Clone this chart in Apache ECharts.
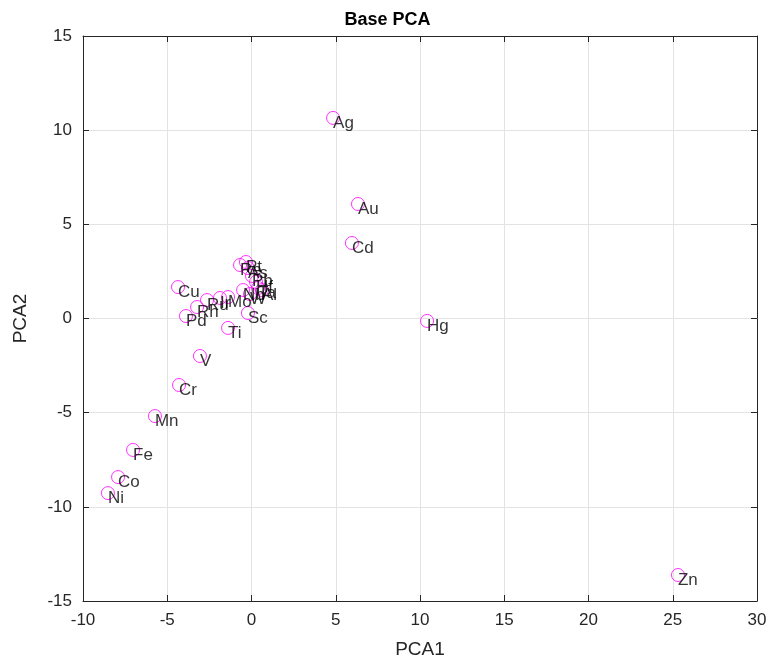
<!DOCTYPE html>
<html>
<head>
<meta charset="utf-8">
<script src="https://cdn.jsdelivr.net/npm/echarts@6/dist/echarts.min.js"></script>
<style>html,body{margin:0;padding:0;background:#fff}#c{width:775px;height:670px}</style>
</head>
<body>
<div id="c"></div>
<script>
var elements = ['Ag','Au','Cd','Hg','Zn','Cu','Mn','Fe','Co','Ni','Cr','V','Ti','Pd','Sc','Rh','Ru','Ir','Mo','Re','Pt','As','Pb','Hf','Ta','Al','Nb','W'];
var pca1 = [4.84,6.32,5.96,10.42,25.31,-4.36,-5.73,-7.03,-7.92,-8.52,-4.30,-3.06,-1.39,-3.89,-0.21,-3.23,-2.64,-1.87,-1.39,-0.68,-0.33,-0.21,0.03,0.27,0.39,0.62,-0.50,-0.09];
var pca2 = [10.65,6.08,4.01,-0.13,-13.62,1.67,-5.18,-6.98,-8.42,-9.27,-3.53,-1.99,-0.50,0.13,0.29,0.61,0.98,1.09,1.14,2.84,3.00,2.68,2.26,1.94,1.62,1.51,1.51,1.30];
var xTicks = {min:-10,max:30,interval:5};
var yTicks = {min:-15,max:15,interval:5};

var pts = elements.map(function(n,i){return {name:n,value:[pca1[i],pca2[i]]};});
var font = 'Liberation Sans, Arial, Helvetica, sans-serif';
var frame = '#262626';
function axisBase(extra){
  var a = {
    axisLine:{show:true,onZero:false,lineStyle:{color:frame,width:1}},
    axisTick:{show:true,inside:true,length:6,lineStyle:{color:frame}},
    splitLine:{show:false},
    axisLabel:{show:false}
  };
  for (var k in extra) a[k]=extra[k];
  return a;
}
var chart = echarts.init(document.getElementById('c'));
chart.setOption({
  animation:false,
  backgroundColor:'#fff',
  title:{text:'Base PCA',left:'center',top:6,textStyle:{fontFamily:font,fontSize:18,fontWeight:'bold',color:'#000'}},
  grid:{left:83,right:18,top:36,bottom:69,containLabel:false},
  xAxis:[
    axisBase({type:'value',position:'bottom',min:xTicks.min,max:xTicks.max,interval:xTicks.interval,
      name:'PCA1',nameLocation:'middle',nameGap:39,nameTextStyle:{fontFamily:font,fontSize:19,color:frame},
      splitLine:{show:true,lineStyle:{color:'#e3e3e3',width:1}},
      axisLabel:{show:true,fontFamily:font,fontSize:17,color:frame,margin:11}}),
    axisBase({type:'value',position:'top',min:xTicks.min,max:xTicks.max,interval:xTicks.interval})
  ],
  yAxis:[
    axisBase({type:'value',position:'left',min:yTicks.min,max:yTicks.max,interval:yTicks.interval,
      name:'PCA2',nameLocation:'middle',nameGap:53,nameRotate:90,nameTextStyle:{fontFamily:font,fontSize:19,color:frame},
      splitLine:{show:true,lineStyle:{color:'#e3e3e3',width:1}},
      axisLabel:{show:true,fontFamily:font,fontSize:17,color:frame,margin:11}}),
    axisBase({type:'value',position:'right',min:yTicks.min,max:yTicks.max,interval:yTicks.interval})
  ],
  series:[{
    type:'scatter',
    xAxisIndex:0,yAxisIndex:0,
    data:pts,
    symbol:'circle',
    symbolSize:13,
    itemStyle:{color:'rgba(0,0,0,0)',borderColor:'#ff00ff',borderWidth:1},
    label:{show:true,formatter:function(p){return p.name;},position:[7,12],
      align:'left',verticalAlign:'middle',fontFamily:font,fontSize:17,color:'#000'},
    labelLayout:{hideOverlap:false},
    emphasis:{disabled:true}
  }]
});
</script>
</body>
</html>
